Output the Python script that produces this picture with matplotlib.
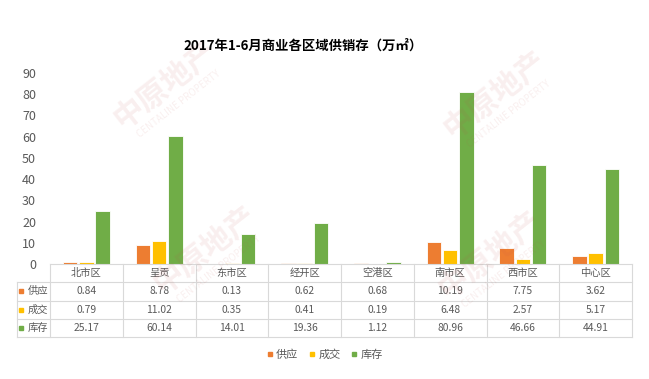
import matplotlib
matplotlib.use('Agg')
import matplotlib.pyplot as plt
import numpy as np

plt.rcParams['font.family'] = ['Noto Sans CJK SC', 'DejaVu Sans']

categories = ['北市区', '呈贡', '东市区', '经开区', '空港区', '南市区', '西市区', '中心区']
series_names = ['供应', '成交', '库存']
supply = [0.84, 8.78, 0.13, 0.62, 0.68, 10.19, 7.75, 3.62]
deal = [0.79, 11.02, 0.35, 0.41, 0.19, 6.48, 2.57, 5.17]
stock = [25.17, 60.14, 14.01, 19.36, 1.12, 80.96, 46.66, 44.91]
yticks = [0, 10, 20, 30, 40, 50, 60, 70, 80, 90]
title = '2017年1-6月商业各区域供销存（万㎡）'

colors = ['#ED7D31', '#FFC000', '#70AD47']
text_color = '#595959'
line_color = '#d9d9d9'

W, H = 649, 379
fig = plt.figure(figsize=(W / 100, H / 100), dpi=100)


def fx(px):
    return px / W


def fy(py):
    return 1 - py / H


# watermark (faint, behind everything)
for (x, y) in [(165, 85), (205, 250), (495, 95), (490, 255)]:
    fig.text(fx(x), fy(y), '中原地产', fontsize=22, fontweight='bold', color='#c0504d',
             alpha=0.09, rotation=38, ha='center', va='center', zorder=0)
    fig.text(fx(x + 14), fy(y) - 0.05, 'CENTALINE PROPERTY', fontsize=7, color='#c0504d',
             alpha=0.09, rotation=38, ha='center', va='center', zorder=0)

# main bar axes
ax = fig.add_axes([fx(50), fy(264), fx(632) - fx(50), fy(73) - fy(264)])
ax.patch.set_alpha(0)
x = np.arange(len(categories))
bw = 0.2
for k, (vals, c) in enumerate(zip([supply, deal, stock], colors)):
    ax.bar(x + (k - 1) * 0.222, vals, width=bw, color=c, edgecolor='white', linewidth=0.6, zorder=3)
ax.set_xlim(-0.5, len(categories) - 0.5)
ax.set_ylim(0, 90)
ax.set_yticks(yticks)
ax.set_yticklabels([str(t) for t in yticks], fontsize=9, color=text_color)
ax.tick_params(axis='y', length=0, pad=10)
ax.set_xticks([])
for s in ax.spines.values():
    s.set_visible(False)

fig.text(fx(303), fy(46), title, fontsize=9.6, fontweight='bold', color='black',
         ha='center', va='center')

# data table below the bars
tab = fig.add_axes([fx(50), fy(337), fx(632) - fx(50), fy(264) - fy(337)])
tab.set_xlim(-0.5, len(categories) - 0.5)
tab.set_ylim(4, 0)
tab.axis('off')
left = -0.5 - 33 / 72.75
right = len(categories) - 0.5
kw = dict(color=line_color, linewidth=0.8, clip_on=False)
tab.plot([-0.5, right], [0, 0], **kw)
for r in range(1, 5):
    tab.plot([left, right], [r, r], **kw)
tab.plot([left, left], [1, 4], **kw)
for i in range(len(categories) + 1):
    tab.plot([i - 0.5, i - 0.5], [0, 4], **kw)

fs = 7.4
for i, cat in enumerate(categories):
    tab.text(i, 0.5, cat, ha='center', va='center', fontsize=fs, color=text_color)
for r, (name, vals, c) in enumerate(zip(series_names, [supply, deal, stock], colors), start=1):
    tab.plot([left + 0.06], [r + 0.5], marker='s', markersize=2.5, color=c, clip_on=False)
    tab.text(left + 0.15, r + 0.5, name, ha='left', va='center', fontsize=fs, color=text_color)
    for i, v in enumerate(vals):
        tab.text(i, r + 0.5, f'{v:.2f}', ha='center', va='center', fontsize=fs, color=text_color)

# legend
handles = [plt.Line2D([], [], marker='s', linestyle='none', markersize=3.5, color=c) for c in colors]
fig.legend(handles, series_names, loc='center', bbox_to_anchor=(fx(325), fy(355)), ncol=3,
           frameon=False, fontsize=8, handlelength=0.5, handletextpad=0.3, columnspacing=1.0,
           labelcolor=text_color)

fig.savefig('out.png', dpi=100)
